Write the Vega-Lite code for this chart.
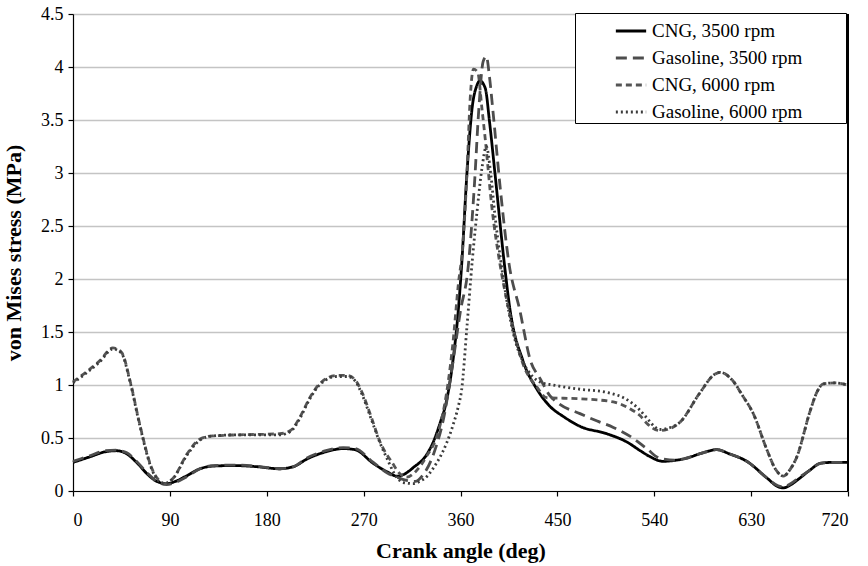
{
  "$schema": "https://vega.github.io/schema/vega-lite/v6.json",
  "width": 775,
  "height": 477,
  "autosize": {"type": "none"},
  "padding": {"left": 73, "top": 14, "right": 20, "bottom": 75},
  "background": "white",
  "config": {
    "view": {"stroke": null},
    "font": "Liberation Serif",
    "axis": {
      "labelFont": "Liberation Serif",
      "titleFont": "Liberation Serif",
      "labelFontSize": 18,
      "titleFontSize": 22,
      "titleFontWeight": "bold",
      "labelColor": "black",
      "titleColor": "black",
      "domainColor": "black",
      "domainWidth": 1.2,
      "tickColor": "black",
      "tickSize": 5,
      "tickWidth": 1.2
    },
    "legend": {
      "orient": "none",
      "legendX": 502,
      "legendY": -1,
      "title": null,
      "strokeColor": "black",
      "padding": 1,
      "symbolType": "stroke",
      "symbolSize": 918,
      "symbolStrokeWidth": 2.8,
      "symbolOffset": 38,
      "labelFont": "Liberation Serif",
      "labelFontSize": 19,
      "labelColor": "black",
      "labelOffset": 4,
      "rowPadding": 0,
      "labelLimit": 400,
      "fillColor": "white"
    }
  },
  "data": {
    "values": [
      {"s": "CNG, 3500 rpm", "a": 0, "v": 0.27}, {"s": "CNG, 3500 rpm", "a": 15, "v": 0.32}, {"s": "CNG, 3500 rpm", "a": 30, "v": 0.37}, {"s": "CNG, 3500 rpm", "a": 40, "v": 0.38}, {"s": "CNG, 3500 rpm", "a": 50, "v": 0.35}, {"s": "CNG, 3500 rpm", "a": 60, "v": 0.26}, {"s": "CNG, 3500 rpm", "a": 69, "v": 0.16}, {"s": "CNG, 3500 rpm", "a": 78, "v": 0.09}, {"s": "CNG, 3500 rpm", "a": 87, "v": 0.07}, {"s": "CNG, 3500 rpm", "a": 95, "v": 0.09}, {"s": "CNG, 3500 rpm", "a": 105, "v": 0.14}, {"s": "CNG, 3500 rpm", "a": 118, "v": 0.21}, {"s": "CNG, 3500 rpm", "a": 130, "v": 0.235}, {"s": "CNG, 3500 rpm", "a": 150, "v": 0.24}, {"s": "CNG, 3500 rpm", "a": 170, "v": 0.23}, {"s": "CNG, 3500 rpm", "a": 192, "v": 0.21}, {"s": "CNG, 3500 rpm", "a": 205, "v": 0.23}, {"s": "CNG, 3500 rpm", "a": 217, "v": 0.3}, {"s": "CNG, 3500 rpm", "a": 235, "v": 0.37}, {"s": "CNG, 3500 rpm", "a": 251, "v": 0.4}, {"s": "CNG, 3500 rpm", "a": 262, "v": 0.39}, {"s": "CNG, 3500 rpm", "a": 279, "v": 0.26}, {"s": "CNG, 3500 rpm", "a": 292, "v": 0.18}, {"s": "CNG, 3500 rpm", "a": 301, "v": 0.14}, {"s": "CNG, 3500 rpm", "a": 308, "v": 0.16}, {"s": "CNG, 3500 rpm", "a": 316, "v": 0.22}, {"s": "CNG, 3500 rpm", "a": 329, "v": 0.35}, {"s": "CNG, 3500 rpm", "a": 335, "v": 0.47}, {"s": "CNG, 3500 rpm", "a": 341, "v": 0.64}, {"s": "CNG, 3500 rpm", "a": 347, "v": 0.85}, {"s": "CNG, 3500 rpm", "a": 353, "v": 1.23}, {"s": "CNG, 3500 rpm", "a": 358, "v": 1.71}, {"s": "CNG, 3500 rpm", "a": 361, "v": 2.12}, {"s": "CNG, 3500 rpm", "a": 366, "v": 3.0}, {"s": "CNG, 3500 rpm", "a": 371, "v": 3.63}, {"s": "CNG, 3500 rpm", "a": 375, "v": 3.82}, {"s": "CNG, 3500 rpm", "a": 378, "v": 3.87}, {"s": "CNG, 3500 rpm", "a": 383, "v": 3.8}, {"s": "CNG, 3500 rpm", "a": 387, "v": 3.48}, {"s": "CNG, 3500 rpm", "a": 392, "v": 3.0}, {"s": "CNG, 3500 rpm", "a": 401, "v": 2.12}, {"s": "CNG, 3500 rpm", "a": 406, "v": 1.71}, {"s": "CNG, 3500 rpm", "a": 418, "v": 1.23}, {"s": "CNG, 3500 rpm", "a": 431, "v": 0.96}, {"s": "CNG, 3500 rpm", "a": 443, "v": 0.8}, {"s": "CNG, 3500 rpm", "a": 456, "v": 0.7}, {"s": "CNG, 3500 rpm", "a": 471, "v": 0.61}, {"s": "CNG, 3500 rpm", "a": 496, "v": 0.54}, {"s": "CNG, 3500 rpm", "a": 515, "v": 0.46}, {"s": "CNG, 3500 rpm", "a": 527, "v": 0.38}, {"s": "CNG, 3500 rpm", "a": 535, "v": 0.33}, {"s": "CNG, 3500 rpm", "a": 548, "v": 0.28}, {"s": "CNG, 3500 rpm", "a": 560, "v": 0.29}, {"s": "CNG, 3500 rpm", "a": 570, "v": 0.31}, {"s": "CNG, 3500 rpm", "a": 585, "v": 0.36}, {"s": "CNG, 3500 rpm", "a": 598, "v": 0.39}, {"s": "CNG, 3500 rpm", "a": 610, "v": 0.35}, {"s": "CNG, 3500 rpm", "a": 626, "v": 0.28}, {"s": "CNG, 3500 rpm", "a": 645, "v": 0.12}, {"s": "CNG, 3500 rpm", "a": 655, "v": 0.04}, {"s": "CNG, 3500 rpm", "a": 660, "v": 0.03}, {"s": "CNG, 3500 rpm", "a": 667, "v": 0.06}, {"s": "CNG, 3500 rpm", "a": 675, "v": 0.12}, {"s": "CNG, 3500 rpm", "a": 685, "v": 0.2}, {"s": "CNG, 3500 rpm", "a": 694, "v": 0.26}, {"s": "CNG, 3500 rpm", "a": 705, "v": 0.27}, {"s": "CNG, 3500 rpm", "a": 720, "v": 0.27},

      {"s": "Gasoline, 3500 rpm", "a": 0, "v": 0.28}, {"s": "Gasoline, 3500 rpm", "a": 15, "v": 0.33}, {"s": "Gasoline, 3500 rpm", "a": 30, "v": 0.38}, {"s": "Gasoline, 3500 rpm", "a": 40, "v": 0.385}, {"s": "Gasoline, 3500 rpm", "a": 50, "v": 0.36}, {"s": "Gasoline, 3500 rpm", "a": 60, "v": 0.27}, {"s": "Gasoline, 3500 rpm", "a": 69, "v": 0.17}, {"s": "Gasoline, 3500 rpm", "a": 78, "v": 0.09}, {"s": "Gasoline, 3500 rpm", "a": 87, "v": 0.06}, {"s": "Gasoline, 3500 rpm", "a": 95, "v": 0.08}, {"s": "Gasoline, 3500 rpm", "a": 105, "v": 0.13}, {"s": "Gasoline, 3500 rpm", "a": 118, "v": 0.21}, {"s": "Gasoline, 3500 rpm", "a": 130, "v": 0.24}, {"s": "Gasoline, 3500 rpm", "a": 150, "v": 0.245}, {"s": "Gasoline, 3500 rpm", "a": 170, "v": 0.235}, {"s": "Gasoline, 3500 rpm", "a": 192, "v": 0.21}, {"s": "Gasoline, 3500 rpm", "a": 205, "v": 0.23}, {"s": "Gasoline, 3500 rpm", "a": 217, "v": 0.31}, {"s": "Gasoline, 3500 rpm", "a": 235, "v": 0.38}, {"s": "Gasoline, 3500 rpm", "a": 251, "v": 0.41}, {"s": "Gasoline, 3500 rpm", "a": 262, "v": 0.4}, {"s": "Gasoline, 3500 rpm", "a": 279, "v": 0.27}, {"s": "Gasoline, 3500 rpm", "a": 292, "v": 0.17}, {"s": "Gasoline, 3500 rpm", "a": 301, "v": 0.13}, {"s": "Gasoline, 3500 rpm", "a": 310, "v": 0.1}, {"s": "Gasoline, 3500 rpm", "a": 318, "v": 0.09}, {"s": "Gasoline, 3500 rpm", "a": 325, "v": 0.15}, {"s": "Gasoline, 3500 rpm", "a": 335, "v": 0.35}, {"s": "Gasoline, 3500 rpm", "a": 345, "v": 0.72}, {"s": "Gasoline, 3500 rpm", "a": 352, "v": 1.15}, {"s": "Gasoline, 3500 rpm", "a": 360, "v": 1.7}, {"s": "Gasoline, 3500 rpm", "a": 367, "v": 2.1}, {"s": "Gasoline, 3500 rpm", "a": 373, "v": 2.9}, {"s": "Gasoline, 3500 rpm", "a": 377, "v": 3.6}, {"s": "Gasoline, 3500 rpm", "a": 381, "v": 4.05}, {"s": "Gasoline, 3500 rpm", "a": 384, "v": 4.1}, {"s": "Gasoline, 3500 rpm", "a": 387, "v": 3.9}, {"s": "Gasoline, 3500 rpm", "a": 390, "v": 3.6}, {"s": "Gasoline, 3500 rpm", "a": 397, "v": 2.85}, {"s": "Gasoline, 3500 rpm", "a": 405, "v": 2.15}, {"s": "Gasoline, 3500 rpm", "a": 415, "v": 1.71}, {"s": "Gasoline, 3500 rpm", "a": 425, "v": 1.23}, {"s": "Gasoline, 3500 rpm", "a": 434, "v": 1.06}, {"s": "Gasoline, 3500 rpm", "a": 443, "v": 0.9}, {"s": "Gasoline, 3500 rpm", "a": 452, "v": 0.82}, {"s": "Gasoline, 3500 rpm", "a": 471, "v": 0.73}, {"s": "Gasoline, 3500 rpm", "a": 487, "v": 0.66}, {"s": "Gasoline, 3500 rpm", "a": 502, "v": 0.6}, {"s": "Gasoline, 3500 rpm", "a": 520, "v": 0.5}, {"s": "Gasoline, 3500 rpm", "a": 533, "v": 0.4}, {"s": "Gasoline, 3500 rpm", "a": 545, "v": 0.31}, {"s": "Gasoline, 3500 rpm", "a": 560, "v": 0.29}, {"s": "Gasoline, 3500 rpm", "a": 570, "v": 0.31}, {"s": "Gasoline, 3500 rpm", "a": 585, "v": 0.36}, {"s": "Gasoline, 3500 rpm", "a": 598, "v": 0.39}, {"s": "Gasoline, 3500 rpm", "a": 610, "v": 0.35}, {"s": "Gasoline, 3500 rpm", "a": 626, "v": 0.28}, {"s": "Gasoline, 3500 rpm", "a": 645, "v": 0.12}, {"s": "Gasoline, 3500 rpm", "a": 655, "v": 0.05}, {"s": "Gasoline, 3500 rpm", "a": 660, "v": 0.04}, {"s": "Gasoline, 3500 rpm", "a": 667, "v": 0.07}, {"s": "Gasoline, 3500 rpm", "a": 675, "v": 0.13}, {"s": "Gasoline, 3500 rpm", "a": 685, "v": 0.2}, {"s": "Gasoline, 3500 rpm", "a": 694, "v": 0.26}, {"s": "Gasoline, 3500 rpm", "a": 705, "v": 0.27}, {"s": "Gasoline, 3500 rpm", "a": 720, "v": 0.27},

      {"s": "CNG, 6000 rpm", "a": 0, "v": 1.03}, {"s": "CNG, 6000 rpm", "a": 12, "v": 1.12}, {"s": "CNG, 6000 rpm", "a": 25, "v": 1.23}, {"s": "CNG, 6000 rpm", "a": 37, "v": 1.35}, {"s": "CNG, 6000 rpm", "a": 45, "v": 1.31}, {"s": "CNG, 6000 rpm", "a": 53, "v": 1.04}, {"s": "CNG, 6000 rpm", "a": 62, "v": 0.63}, {"s": "CNG, 6000 rpm", "a": 73, "v": 0.22}, {"s": "CNG, 6000 rpm", "a": 80, "v": 0.1}, {"s": "CNG, 6000 rpm", "a": 85, "v": 0.07}, {"s": "CNG, 6000 rpm", "a": 93, "v": 0.12}, {"s": "CNG, 6000 rpm", "a": 106, "v": 0.35}, {"s": "CNG, 6000 rpm", "a": 118, "v": 0.49}, {"s": "CNG, 6000 rpm", "a": 130, "v": 0.52}, {"s": "CNG, 6000 rpm", "a": 155, "v": 0.53}, {"s": "CNG, 6000 rpm", "a": 192, "v": 0.54}, {"s": "CNG, 6000 rpm", "a": 202, "v": 0.57}, {"s": "CNG, 6000 rpm", "a": 211, "v": 0.7}, {"s": "CNG, 6000 rpm", "a": 220, "v": 0.88}, {"s": "CNG, 6000 rpm", "a": 229, "v": 1.01}, {"s": "CNG, 6000 rpm", "a": 245, "v": 1.09}, {"s": "CNG, 6000 rpm", "a": 255, "v": 1.09}, {"s": "CNG, 6000 rpm", "a": 262, "v": 1.05}, {"s": "CNG, 6000 rpm", "a": 269, "v": 0.92}, {"s": "CNG, 6000 rpm", "a": 277, "v": 0.7}, {"s": "CNG, 6000 rpm", "a": 285, "v": 0.47}, {"s": "CNG, 6000 rpm", "a": 297, "v": 0.26}, {"s": "CNG, 6000 rpm", "a": 304, "v": 0.16}, {"s": "CNG, 6000 rpm", "a": 310, "v": 0.13}, {"s": "CNG, 6000 rpm", "a": 318, "v": 0.18}, {"s": "CNG, 6000 rpm", "a": 328, "v": 0.32}, {"s": "CNG, 6000 rpm", "a": 340, "v": 0.58}, {"s": "CNG, 6000 rpm", "a": 347, "v": 0.92}, {"s": "CNG, 6000 rpm", "a": 353, "v": 1.4}, {"s": "CNG, 6000 rpm", "a": 358, "v": 1.95}, {"s": "CNG, 6000 rpm", "a": 362, "v": 2.3}, {"s": "CNG, 6000 rpm", "a": 366, "v": 3.0}, {"s": "CNG, 6000 rpm", "a": 369, "v": 3.7}, {"s": "CNG, 6000 rpm", "a": 372, "v": 3.98}, {"s": "CNG, 6000 rpm", "a": 376, "v": 3.95}, {"s": "CNG, 6000 rpm", "a": 380, "v": 3.6}, {"s": "CNG, 6000 rpm", "a": 383, "v": 3.32}, {"s": "CNG, 6000 rpm", "a": 389, "v": 2.69}, {"s": "CNG, 6000 rpm", "a": 397, "v": 2.12}, {"s": "CNG, 6000 rpm", "a": 404, "v": 1.75}, {"s": "CNG, 6000 rpm", "a": 409, "v": 1.52}, {"s": "CNG, 6000 rpm", "a": 418, "v": 1.2}, {"s": "CNG, 6000 rpm", "a": 431, "v": 0.98}, {"s": "CNG, 6000 rpm", "a": 440, "v": 0.88}, {"s": "CNG, 6000 rpm", "a": 471, "v": 0.87}, {"s": "CNG, 6000 rpm", "a": 502, "v": 0.84}, {"s": "CNG, 6000 rpm", "a": 520, "v": 0.76}, {"s": "CNG, 6000 rpm", "a": 527, "v": 0.71}, {"s": "CNG, 6000 rpm", "a": 533, "v": 0.64}, {"s": "CNG, 6000 rpm", "a": 545, "v": 0.57}, {"s": "CNG, 6000 rpm", "a": 552, "v": 0.58}, {"s": "CNG, 6000 rpm", "a": 564, "v": 0.65}, {"s": "CNG, 6000 rpm", "a": 582, "v": 0.92}, {"s": "CNG, 6000 rpm", "a": 596, "v": 1.1}, {"s": "CNG, 6000 rpm", "a": 601, "v": 1.12}, {"s": "CNG, 6000 rpm", "a": 613, "v": 1.04}, {"s": "CNG, 6000 rpm", "a": 622, "v": 0.9}, {"s": "CNG, 6000 rpm", "a": 632, "v": 0.73}, {"s": "CNG, 6000 rpm", "a": 645, "v": 0.38}, {"s": "CNG, 6000 rpm", "a": 653, "v": 0.2}, {"s": "CNG, 6000 rpm", "a": 660, "v": 0.14}, {"s": "CNG, 6000 rpm", "a": 666, "v": 0.2}, {"s": "CNG, 6000 rpm", "a": 672, "v": 0.31}, {"s": "CNG, 6000 rpm", "a": 685, "v": 0.76}, {"s": "CNG, 6000 rpm", "a": 691, "v": 0.93}, {"s": "CNG, 6000 rpm", "a": 697, "v": 1.01}, {"s": "CNG, 6000 rpm", "a": 708, "v": 1.02}, {"s": "CNG, 6000 rpm", "a": 720, "v": 1.0},

      {"s": "Gasoline, 6000 rpm", "a": 0, "v": 1.02}, {"s": "Gasoline, 6000 rpm", "a": 12, "v": 1.11}, {"s": "Gasoline, 6000 rpm", "a": 25, "v": 1.22}, {"s": "Gasoline, 6000 rpm", "a": 37, "v": 1.34}, {"s": "Gasoline, 6000 rpm", "a": 45, "v": 1.3}, {"s": "Gasoline, 6000 rpm", "a": 53, "v": 1.03}, {"s": "Gasoline, 6000 rpm", "a": 62, "v": 0.62}, {"s": "Gasoline, 6000 rpm", "a": 73, "v": 0.21}, {"s": "Gasoline, 6000 rpm", "a": 80, "v": 0.09}, {"s": "Gasoline, 6000 rpm", "a": 85, "v": 0.07}, {"s": "Gasoline, 6000 rpm", "a": 93, "v": 0.12}, {"s": "Gasoline, 6000 rpm", "a": 106, "v": 0.34}, {"s": "Gasoline, 6000 rpm", "a": 118, "v": 0.48}, {"s": "Gasoline, 6000 rpm", "a": 130, "v": 0.52}, {"s": "Gasoline, 6000 rpm", "a": 155, "v": 0.53}, {"s": "Gasoline, 6000 rpm", "a": 192, "v": 0.53}, {"s": "Gasoline, 6000 rpm", "a": 202, "v": 0.56}, {"s": "Gasoline, 6000 rpm", "a": 211, "v": 0.69}, {"s": "Gasoline, 6000 rpm", "a": 220, "v": 0.87}, {"s": "Gasoline, 6000 rpm", "a": 229, "v": 1.0}, {"s": "Gasoline, 6000 rpm", "a": 245, "v": 1.08}, {"s": "Gasoline, 6000 rpm", "a": 255, "v": 1.08}, {"s": "Gasoline, 6000 rpm", "a": 262, "v": 1.04}, {"s": "Gasoline, 6000 rpm", "a": 269, "v": 0.9}, {"s": "Gasoline, 6000 rpm", "a": 277, "v": 0.68}, {"s": "Gasoline, 6000 rpm", "a": 285, "v": 0.46}, {"s": "Gasoline, 6000 rpm", "a": 292, "v": 0.3}, {"s": "Gasoline, 6000 rpm", "a": 300, "v": 0.14}, {"s": "Gasoline, 6000 rpm", "a": 307, "v": 0.08}, {"s": "Gasoline, 6000 rpm", "a": 316, "v": 0.07}, {"s": "Gasoline, 6000 rpm", "a": 322, "v": 0.09}, {"s": "Gasoline, 6000 rpm", "a": 329, "v": 0.14}, {"s": "Gasoline, 6000 rpm", "a": 335, "v": 0.22}, {"s": "Gasoline, 6000 rpm", "a": 341, "v": 0.32}, {"s": "Gasoline, 6000 rpm", "a": 347, "v": 0.45}, {"s": "Gasoline, 6000 rpm", "a": 353, "v": 0.62}, {"s": "Gasoline, 6000 rpm", "a": 358, "v": 0.8}, {"s": "Gasoline, 6000 rpm", "a": 361, "v": 0.95}, {"s": "Gasoline, 6000 rpm", "a": 366, "v": 1.55}, {"s": "Gasoline, 6000 rpm", "a": 371, "v": 2.18}, {"s": "Gasoline, 6000 rpm", "a": 375, "v": 2.6}, {"s": "Gasoline, 6000 rpm", "a": 380, "v": 3.05}, {"s": "Gasoline, 6000 rpm", "a": 384, "v": 3.25}, {"s": "Gasoline, 6000 rpm", "a": 388, "v": 3.0}, {"s": "Gasoline, 6000 rpm", "a": 392, "v": 2.6}, {"s": "Gasoline, 6000 rpm", "a": 397, "v": 2.2}, {"s": "Gasoline, 6000 rpm", "a": 403, "v": 1.8}, {"s": "Gasoline, 6000 rpm", "a": 410, "v": 1.45}, {"s": "Gasoline, 6000 rpm", "a": 418, "v": 1.22}, {"s": "Gasoline, 6000 rpm", "a": 427, "v": 1.08}, {"s": "Gasoline, 6000 rpm", "a": 436, "v": 1.02}, {"s": "Gasoline, 6000 rpm", "a": 446, "v": 1.0}, {"s": "Gasoline, 6000 rpm", "a": 471, "v": 0.96}, {"s": "Gasoline, 6000 rpm", "a": 496, "v": 0.93}, {"s": "Gasoline, 6000 rpm", "a": 515, "v": 0.86}, {"s": "Gasoline, 6000 rpm", "a": 525, "v": 0.78}, {"s": "Gasoline, 6000 rpm", "a": 533, "v": 0.69}, {"s": "Gasoline, 6000 rpm", "a": 540, "v": 0.61}, {"s": "Gasoline, 6000 rpm", "a": 545, "v": 0.58}, {"s": "Gasoline, 6000 rpm", "a": 552, "v": 0.59}, {"s": "Gasoline, 6000 rpm", "a": 564, "v": 0.65}, {"s": "Gasoline, 6000 rpm", "a": 582, "v": 0.92}, {"s": "Gasoline, 6000 rpm", "a": 596, "v": 1.1}, {"s": "Gasoline, 6000 rpm", "a": 601, "v": 1.12}, {"s": "Gasoline, 6000 rpm", "a": 613, "v": 1.04}, {"s": "Gasoline, 6000 rpm", "a": 622, "v": 0.9}, {"s": "Gasoline, 6000 rpm", "a": 632, "v": 0.73}, {"s": "Gasoline, 6000 rpm", "a": 645, "v": 0.38}, {"s": "Gasoline, 6000 rpm", "a": 653, "v": 0.2}, {"s": "Gasoline, 6000 rpm", "a": 660, "v": 0.14}, {"s": "Gasoline, 6000 rpm", "a": 666, "v": 0.2}, {"s": "Gasoline, 6000 rpm", "a": 672, "v": 0.31}, {"s": "Gasoline, 6000 rpm", "a": 685, "v": 0.76}, {"s": "Gasoline, 6000 rpm", "a": 691, "v": 0.93}, {"s": "Gasoline, 6000 rpm", "a": 697, "v": 1.01}, {"s": "Gasoline, 6000 rpm", "a": 708, "v": 1.02}, {"s": "Gasoline, 6000 rpm", "a": 720, "v": 1.0}
    ]
  },
  "layer": [
    {
      "mark": {"type": "line", "interpolate": "monotone", "strokeWidth": 2.8},
      "encoding": {
        "x": {
          "field": "a", "type": "quantitative",
          "scale": {"domain": [0, 720], "nice": false},
          "axis": {"values": [0, 90, 180, 270, 360, 450, 540, 630, 720], "title": "Crank angle (deg)", "grid": false, "labelPadding": 15, "titlePadding": 11}
        },
        "y": {
          "field": "v", "type": "quantitative",
          "scale": {"domain": [0, 4.5], "nice": false},
          "axis": {"values": [0, 0.5, 1, 1.5, 2, 2.5, 3, 3.5, 4, 4.5], "format": "~g", "title": "von Mises stress (MPa)", "grid": true, "gridColor": "#c4c4c4", "gridWidth": 1.5, "labelPadding": 5, "titlePadding": 15}
        },
        "color": {
          "field": "s", "type": "nominal",
          "scale": {"domain": ["CNG, 3500 rpm", "Gasoline, 3500 rpm", "CNG, 6000 rpm", "Gasoline, 6000 rpm"], "range": ["#000000", "#4d4d4d", "#555555", "#3c3c3c"]},
          "legend": {"symbolOffset": 38, "labelExpr": "datum.label + '\u2800\u2800\u2800'"}
        },
        "strokeDash": {
          "field": "s", "type": "nominal",
          "scale": {"domain": ["CNG, 3500 rpm", "Gasoline, 3500 rpm", "CNG, 6000 rpm", "Gasoline, 6000 rpm"], "range": [[1, 0], [11, 6], [6, 4], [2, 3]]},
          "legend": {"symbolOffset": 38, "labelExpr": "datum.label + '\u2800\u2800\u2800'"}
        }
      }
    },
    {
      "mark": {"type": "rule", "color": "black", "strokeWidth": 1.5},
      "encoding": {"x": {"datum": 720}}
    }
  ]
}
